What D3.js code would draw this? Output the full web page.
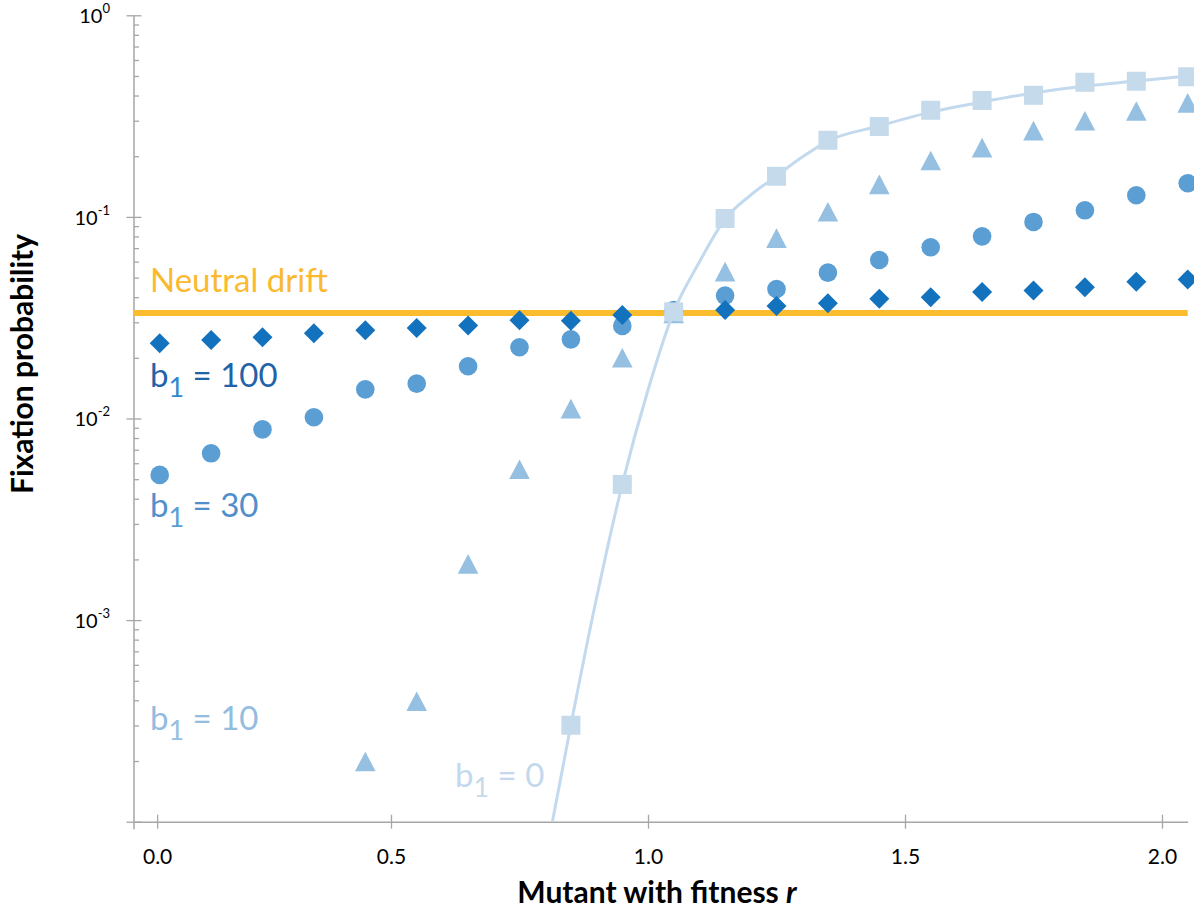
<!DOCTYPE html>
<html>
<head>
<meta charset="utf-8">
<script src="https://cdn.jsdelivr.net/npm/d3@7"></script>
<style>
  body { margin: 0; background: #fff; }
  svg { display: block; }
  text { font-family: Lato, "Open Sans", sans-serif; }
</style>
</head>
<body>
<svg></svg>
<script>
// mutant fitness r for every marker column
let rValues = [0.05, 0.15, 0.25, 0.35, 0.45, 0.55, 0.65, 0.75, 0.85, 0.95,
               1.05, 1.15, 1.25, 1.35, 1.45, 1.55, 1.65, 1.75, 1.85, 1.95, 2.05];

// fixation probability per b1 value (null = not plotted)
let b100 = [0.0236, 0.0245, 0.0253, 0.0265, 0.0274, 0.0281, 0.0289, 0.0307, 0.0305, 0.0326,
            0.0338, 0.0345, 0.0361, 0.0373, 0.0393, 0.0399, 0.0424, 0.0431, 0.0448, 0.0477, 0.0489];
let b30 = [0.00525, 0.00672, 0.00883, 0.01014, 0.01395, 0.01489, 0.01816, 0.02256, 0.0247, 0.0288,
           0.0345, 0.0407, 0.0439, 0.0529, 0.0611, 0.0707, 0.0801, 0.0944, 0.1078, 0.128, 0.1468];
let b10 = [null, null, null, null, 0.000199, 0.000396, 0.0019, 0.0056, 0.01119, 0.0200,
           0.0332, 0.0535, 0.0785, 0.106, 0.145, 0.1905, 0.2205, 0.268, 0.300, 0.335, 0.368];
let b0 = [null, null, null, null, null, null, null, null, 0.000301, 0.00471,
          0.0338, 0.0982, 0.159, 0.240, 0.2808, 0.338, 0.378, 0.401, 0.4653, 0.471, 0.4955];

// b1 = 0 theory curve
let curveR = [0.814, 0.85, 0.90, 0.95, 1.00, 1.05, 1.10, 1.15, 1.20, 1.25, 1.30, 1.35,
              1.45, 1.55, 1.65, 1.75, 1.85, 1.95, 2.05];
let curveP = [0.0001, 0.000302, 0.00129, 0.00473, 0.01384, 0.0338, 0.0597, 0.0976, 0.1284, 0.1596, 0.198, 0.2378,
              0.2825, 0.331, 0.3714, 0.4117, 0.4457, 0.472, 0.4999];

let neutralDrift = 1 / 30;

// axis ticks
let xTickValues = [0.045, 0.5, 1.0, 1.5, 2.0];
let xTickLabels = ['0.0', '0.5', '1.0', '1.5', '2.0'];
let yMajorTicks = [1, 0.1, 0.01, 0.001, 0.0001];
let yTickExponents = ['0', '-1', '-2', '-3', ''];

let width = 1194;
let height = 913;

let svg = d3.select('svg').attr('width', width).attr('height', height);

let xScale = d3.scaleLinear().domain([0, 2.05]).range([134, 1187.7]);
let yScale = d3.scaleLog().domain([0.0001, 1]).range([821.7, 15.3]);

let axisColor = '#a6a6a6';

// ----- axes -----
let drawAxes = () => {
    // minor log ticks (inside only)
    let minors = [];
    [0.0001, 0.001, 0.01, 0.1].forEach(dec => {
        for (let k = 2; k <= 9; k++) minors.push(dec * k);
    });
    let yMinor = svg.append('g')
        .attr('transform', 'translate(' + xScale(0) + ',0)')
        .call(d3.axisRight(yScale).tickValues(minors).tickSize(5).tickFormat(''));
    yMinor.select('.domain').remove();
    yMinor.selectAll('line').attr('stroke', axisColor).attr('stroke-width', 1.3);

    let yAxis = svg.append('g')
        .attr('transform', 'translate(' + xScale(0) + ',0)')
        .call(d3.axisLeft(yScale).tickValues(yMajorTicks).tickSize(7.5).tickPadding(16.5).tickFormat(''));
    yAxis.select('.domain').remove();
    yAxis.selectAll('.tick line').attr('x2', -7.5).attr('x1', 7.5)
        .attr('stroke', axisColor).attr('stroke-width', 1.3);
    yAxis.selectAll('.tick text').each(function (d, i) {
        if (yTickExponents[i] === '') return;
        let t = d3.select(this).attr('fill', '#000').attr('font-size', 20).attr('dy', '0.36em');
        t.append('tspan').text('10');
        t.append('tspan').attr('font-size', 13).attr('dy', '-0.75em').text(yTickExponents[i]);
    });
    // vertical axis line (runs a little past the x axis)
    svg.append('line')
        .attr('x1', xScale(0)).attr('x2', xScale(0))
        .attr('y1', yScale(1)).attr('y2', yScale(0.0001) + 7.5)
        .attr('stroke', axisColor).attr('stroke-width', 1.5);

    let xAxis = svg.append('g')
        .attr('transform', 'translate(0,' + yScale(0.0001) + ')')
        .call(d3.axisBottom(xScale).tickValues(xTickValues).tickSize(7).tickPadding(20)
            .tickFormat((d, i) => xTickLabels[i]).tickSizeOuter(0));
    xAxis.select('.domain').attr('stroke', axisColor).attr('stroke-width', 1.5);
    xAxis.selectAll('.tick line').attr('y1', -7).attr('stroke', axisColor).attr('stroke-width', 1.3);
    xAxis.selectAll('.tick text').attr('fill', '#000').attr('font-size', 21);

    svg.append('text')
        .attr('x', 657).attr('y', 903)
        .attr('text-anchor', 'middle')
        .attr('font-size', 30).attr('font-weight', 'bold')
        .call(t => {
            t.append('tspan').text('Mutant with fitness ');
            t.append('tspan').attr('font-style', 'italic').text('r');
        });

    svg.append('text')
        .attr('transform', 'translate(33,364) rotate(-90)')
        .attr('text-anchor', 'middle')
        .attr('font-size', 30).attr('font-weight', 'bold')
        .text('Fixation probability');
};

// ----- marks -----
let points = (vals) => rValues.map((r, i) => ({ r: r, p: vals[i] })).filter(d => d.p != null);

let drawNeutral = () => {
    svg.append('line')
        .attr('x1', xScale(0)).attr('x2', xScale(2.05))
        .attr('y1', yScale(neutralDrift)).attr('y2', yScale(neutralDrift))
        .attr('stroke', '#fbbc2d').attr('stroke-width', 6);
    svg.append('text')
        .attr('x', 150).attr('y', 292)
        .attr('font-size', 33).attr('fill', '#fbb92e')
        .text('Neutral drift');
};

let drawTriangles = () => {
    svg.append('g').selectAll('path')
        .data(points(b10)).enter().append('path')
        .attr('d', 'M0,-9.8L10.3,9.8L-10.3,9.8Z')
        .attr('transform', d => 'translate(' + xScale(d.r) + ',' + yScale(d.p) + ')')
        .attr('fill', '#95c0e2');
};

let drawCircles = () => {
    svg.append('g').selectAll('circle')
        .data(points(b30)).enter().append('circle')
        .attr('cx', d => xScale(d.r))
        .attr('cy', d => yScale(d.p))
        .attr('r', 9.3)
        .attr('fill', '#5a9ed3');
};

let drawDiamonds = () => {
    svg.append('g').selectAll('path')
        .data(points(b100)).enter().append('path')
        .attr('d', d3.symbol(d3.symbolSquare, 200))
        .attr('transform', d => 'translate(' + xScale(d.r) + ',' + yScale(d.p) + ') rotate(45)')
        .attr('fill', '#1372be');
};

let drawCurve = () => {
    let line = d3.line()
        .x((d, i) => xScale(curveR[i]))
        .y(d => yScale(d))
        .curve(d3.curveMonotoneX);
    svg.append('path')
        .attr('d', line(curveP))
        .attr('fill', 'none')
        .attr('stroke', '#c3d9ee')
        .attr('stroke-width', 3);
};

let drawSquares = () => {
    svg.append('g').selectAll('rect')
        .data(points(b0)).enter().append('rect')
        .attr('x', d => xScale(d.r) - 9.5)
        .attr('y', d => yScale(d.p) - 9.5)
        .attr('width', 19).attr('height', 19)
        .attr('fill', '#c5daeb');
};

let drawLabels = () => {
    let labels = [
        { x: 150, y: 387, txt: '100', c: '#1f63a8', sub: '#3088cf' },
        { x: 150, y: 517, txt: '30', c: '#4f8fcb', sub: '#5a9ed3' },
        { x: 150, y: 730, txt: '10', c: '#92bce0', sub: '#95c0e2' },
        { x: 455, y: 787, txt: '0', c: '#c3d8ec', sub: '#c5daeb' }
    ];
    labels.forEach(l => {
        let t = svg.append('text').attr('x', l.x).attr('y', l.y).attr('font-size', 33).attr('fill', l.c);
        t.append('tspan').text('b');
        t.append('tspan').attr('font-size', 27).attr('dy', 10).attr('fill', l.sub).text('1');
        t.append('tspan').attr('dy', -10).text(' = ' + l.txt);
    });
};

drawAxes();
drawNeutral();
drawTriangles();
drawCircles();
drawDiamonds();
drawCurve();
drawSquares();
drawLabels();
</script>
</body>
</html>
